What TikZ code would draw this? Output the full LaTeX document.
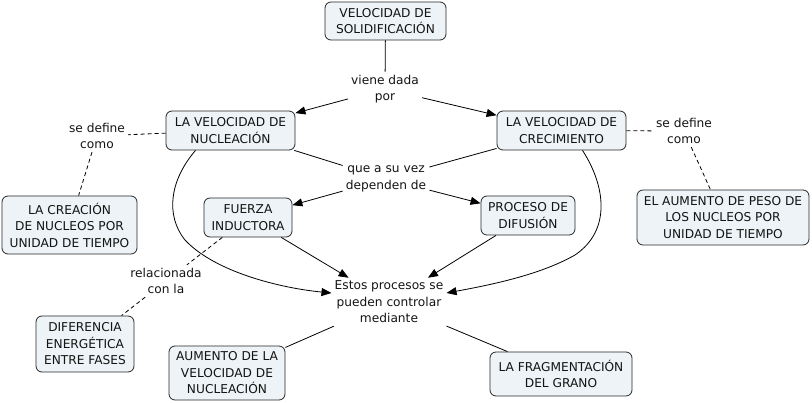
\documentclass[tikz,border=0pt]{standalone}
\usepackage{fontspec}
\setmainfont{DejaVu Sans}
\usetikzlibrary{arrows.meta}
\definecolor{boxfill}{RGB}{237,243,246}
\definecolor{boxline}{RGB}{40,40,40}
\definecolor{txt}{RGB}{20,20,20}
\begin{document}
\begin{tikzpicture}[x=1pt,y=-1pt,
  font=\fontsize{12.2}{16.5}\selectfont,
  every node/.style={text=txt},
  concept/.style={draw=boxline,fill=boxfill,rounded corners=6pt,line width=0.8pt,align=center,inner sep=2pt},
  lbl/.style={align=center,inner sep=3pt},
  link/.style={line width=0.8pt,draw=black},
  arr/.style={link,-{Triangle[length=10pt,width=8pt]}},
  dlink/.style={link,dash pattern=on 4pt off 3pt}]
\useasboundingbox[fill=white] (0,0) rectangle (812,403);
% concepts
\node[concept,minimum width=121pt,minimum height=38pt] (sol) at (385.5,21) {VELOCIDAD DE\\SOLIDIFICACIÓN};
\node[concept,minimum width=129pt,minimum height=39pt] (nuc) at (230.5,130.5) {LA VELOCIDAD DE\\NUCLEACIÓN};
\node[concept,minimum width=129pt,minimum height=39pt] (cre) at (561.5,130.5) {LA VELOCIDAD DE\\CRECIMIENTO};
\node[concept,minimum width=135pt,minimum height=58pt] (crea) at (69.5,225) {LA CREACIÓN\\DE NUCLEOS POR\\UNIDAD DE TIEMPO};
\node[concept,minimum width=172pt,minimum height=55pt] (aum) at (723,217.5) {EL AUMENTO DE PESO DE\\LOS NUCLEOS POR\\UNIDAD DE TIEMPO};
\node[concept,minimum width=88pt,minimum height=39pt] (fue) at (248,217.5) {FUERZA\\INDUCTORA};
\node[concept,minimum width=94pt,minimum height=39pt] (pro) at (528,215.5) {PROCESO DE\\DIFUSIÓN};
\node[concept,minimum width=98pt,minimum height=56pt] (dif) at (85,344) {DIFERENCIA\\ENERGÉTICA\\ENTRE FASES};
\node[concept,minimum width=116pt,minimum height=54pt] (avn) at (227,373) {AUMENTO DE LA\\VELOCIDAD DE\\NUCLEACIÓN};
\node[concept,minimum width=142pt,minimum height=44pt] (fra) at (561,374) {LA FRAGMENTACIÓN\\DEL GRANO};
% linking phrases
\node[lbl] (vie) at (385,89) {viene dada\\por};
\node[lbl] (sdl) at (97,136) {se define\\como};
\node[lbl] (sdr) at (684,131) {se define\\como};
\node[lbl] (que) at (386,179) {que a su vez\\dependen de};
\node[lbl] (est) at (389,302) {Estos procesos se\\pueden controlar\\mediante};
\node[lbl] (rel) at (166,281) {relacionada\\con la};
% connectors
\draw[link] (sol) -- (vie);
\draw[arr] (vie) -- (nuc);
\draw[arr] (vie) -- (cre);
\draw[link] (nuc) -- (que);
\draw[link] (cre) -- (que);
\draw[arr] (que) -- (fue);
\draw[arr] (que) -- (pro);
\draw[arr] (fue) -- (est);
\draw[arr] (pro) -- (est);
\draw[link] (est) -- (avn);
\draw[link] (est) -- (fra);
\draw[arr] ([xshift=-35pt]nuc.south) .. controls (170,180) and (165,215) .. (185,240)
   .. controls (215,272) and (280,288) .. ([yshift=9pt]est.west);
\draw[arr] ([xshift=21pt]cre.south) .. controls (605,185) and (612,230) .. (575,255)
   .. controls (540,275) and (490,285) .. ([yshift=9pt]est.east);
\draw[dlink] (nuc) -- (sdl);
\draw[dlink] (sdl) -- (crea);
\draw[dlink] (cre) -- (sdr);
\draw[dlink] (sdr) -- (aum);
\draw[dlink] (fue) -- (rel);
\draw[dlink] (rel) -- (dif);
\end{tikzpicture}
\end{document}
